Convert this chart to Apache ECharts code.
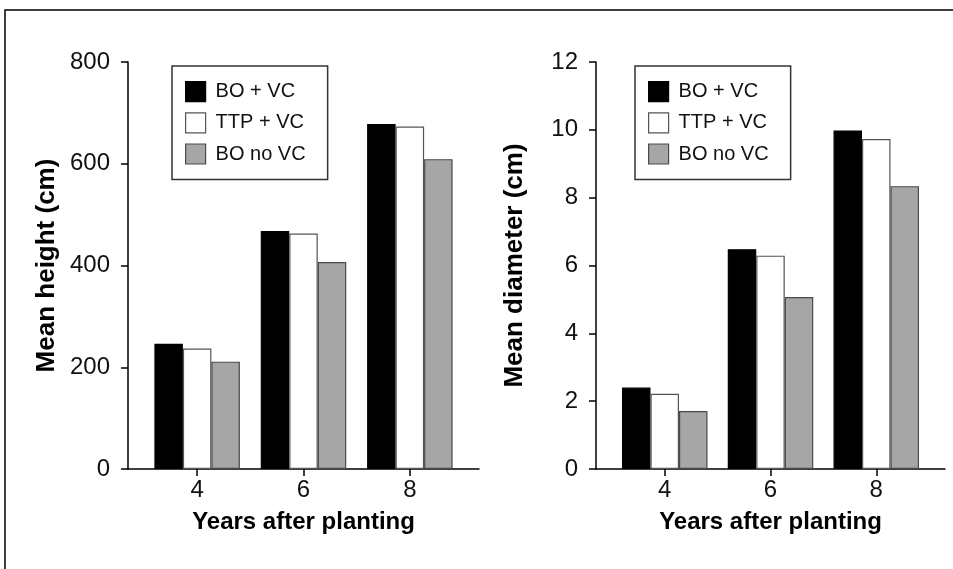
<!DOCTYPE html>
<html>
<head>
<meta charset="utf-8">
<script src="https://cdn.jsdelivr.net/npm/echarts@6/dist/echarts.min.js"></script>
<style>
html,body{margin:0;padding:0;background:#fff;}
#main{width:953px;height:569px;}
</style>
</head>
<body>
<div id="main"></div>
<script>
// ---- data ----
var years = [4, 6, 8];
var seriesNames = ['BO + VC', 'TTP + VC', 'BO no VC'];
var heightBOVC = [246, 468, 678];
var heightTTPVC = [237, 463, 673];
var heightBOnoVC = [211, 407, 609];
var diamBOVC = [2.40, 6.48, 9.98];
var diamTTPVC = [2.22, 6.29, 9.73];
var diamBOnoVC = [1.71, 5.07, 8.34];
var heightTicks = [0, 200, 400, 600, 800];
var diamTicks = [0, 2, 4, 6, 8, 10, 12];

var fills = ['#000000', '#ffffff', '#a6a6a6'];
var borders = ['#000000', '#555555', '#4a4a4a'];
var FONT = '"Liberation Sans", Arial, Helvetica, sans-serif';

function pairs(vals) { return years.map(function (y, i) { return [y, vals[i]]; }); }

function makeSeries(idx, gridIdx, vals) {
  return {
    type: 'bar', name: seriesNames[idx],
    xAxisIndex: gridIdx, yAxisIndex: gridIdx,
    data: pairs(vals),
    barWidth: 28.5, barGap: '0%',
    itemStyle: { color: fills[idx], borderColor: borders[idx], borderWidth: 1.2 },
    emphasis: { disabled: true }
  };
}

function xAxisCfg(gridIdx) {
  return {
    type: 'value', gridIndex: gridIdx, min: 2.7, max: 9.3,
    name: 'Years after planting', nameLocation: 'middle', nameGap: 41,
    nameTextStyle: { fontFamily: FONT, fontWeight: 'bold', fontSize: 24, color: '#000' },
    axisLine: { show: true, onZero: false, lineStyle: { color: '#000', width: 1.5 } },
    axisTick: { show: true, customValues: years, length: 7, inside: false, lineStyle: { color: '#000', width: 1.5 } },
    axisLabel: { customValues: years, fontFamily: FONT, fontSize: 24, color: '#111', margin: 9 },
    splitLine: { show: false }
  };
}

function yAxisCfg(gridIdx, name, maxV, step) {
  return {
    type: 'value', gridIndex: gridIdx, min: 0, max: maxV, interval: step,
    name: name, nameLocation: 'middle', nameGap: 68, nameRotate: 90,
    nameTextStyle: { fontFamily: FONT, fontWeight: 'bold', fontSize: 26, color: '#000' },
    axisLine: { show: true, lineStyle: { color: '#000', width: 1.5 } },
    axisTick: { show: true, length: 7, inside: false, lineStyle: { color: '#000', width: 1.5 } },
    axisLabel: { fontFamily: FONT, fontSize: 24, color: '#111', margin: 18 },
    splitLine: { show: false }
  };
}

function legendCfg(left) {
  return {
    orient: 'vertical', left: left, top: 66,
    data: seriesNames.map(function (n, i) {
      return { name: n, icon: 'rect', itemStyle: { color: fills[i], borderColor: borders[i], borderWidth: 1.2 } };
    }),
    itemWidth: 20, itemHeight: 20, itemGap: 10,
    padding: [15, 22, 15, 13],
    borderColor: '#333', borderWidth: 1.5, borderRadius: 0,
    backgroundColor: '#fff',
    selectedMode: false,
    textStyle: { fontFamily: FONT, fontSize: 20, color: '#111', padding: [0, 0, 0, 5] }
  };
}

var chart = echarts.init(document.getElementById('main'), null, { renderer: 'canvas' });
chart.setOption({
  animation: false,
  backgroundColor: '#fff',
  grid: [
    { left: 128, right: 474, top: 62, bottom: 100 },
    { left: 596, right: 8, top: 62, bottom: 100 }
  ],
  xAxis: [xAxisCfg(0), xAxisCfg(1)],
  yAxis: [
    yAxisCfg(0, 'Mean height (cm)', 800, 200),
    yAxisCfg(1, 'Mean diameter (cm)', 12, 2)
  ],
  legend: [legendCfg(172), legendCfg(635)],
  series: [
    makeSeries(0, 0, heightBOVC),
    makeSeries(1, 0, heightTTPVC),
    makeSeries(2, 0, heightBOnoVC),
    makeSeries(0, 1, diamBOVC),
    makeSeries(1, 1, diamTTPVC),
    makeSeries(2, 1, diamBOnoVC)
  ],
  graphic: [
    { type: 'polyline', shape: { points: [[5, 600], [5, 10], [960, 10]] },
      style: { stroke: '#000', lineWidth: 1.5, fill: null }, silent: true }
  ]
});
</script>
</body>
</html>
